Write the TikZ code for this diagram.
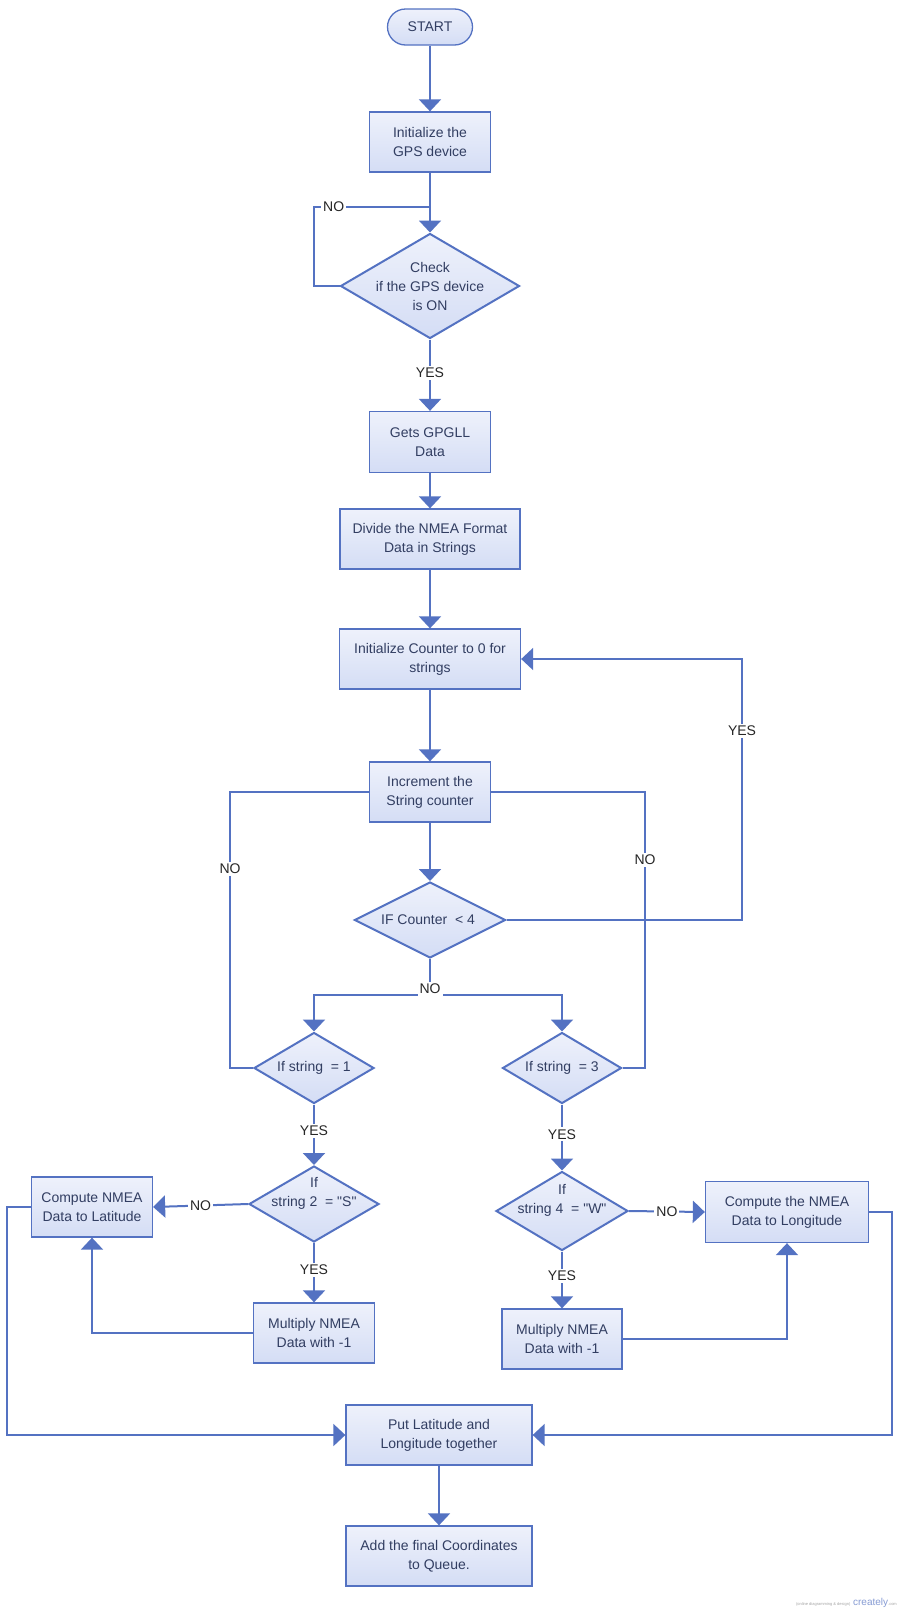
\documentclass[tikz,border=0pt]{standalone}
\usepackage{fontspec}
\newfontfamily\chartfont{Liberation Sans}
\usetikzlibrary{shapes.geometric, arrows.meta}

\definecolor{lineblue}{RGB}{84,114,194}
\definecolor{boxtop}{RGB}{238,241,251}
\definecolor{boxbottom}{RGB}{212,221,245}
\definecolor{textblue}{RGB}{50,62,98}

\tikzset{
  flowtext/.style={text=textblue, align=center, inner sep=0pt, font=\chartfont\fontsize{14}{19}\selectfont},
  process/.style={flowtext, draw=lineblue, line width=1.3pt, top color=boxtop, bottom color=boxbottom,
    minimum width=121pt, minimum height=60pt},
  terminal/.style={process, rounded corners=18pt, minimum width=85pt, minimum height=36pt},
  decision/.style={diamond, draw=lineblue, line width=2pt, inner sep=0pt, top color=boxtop, bottom color=boxbottom},
  answer/.style={fill=white, inner sep=2pt, text=black!85, font=\chartfont\fontsize{14}{16}\selectfont},
  link/.style={draw=lineblue, line width=2pt},
  flow/.style={link, -{Triangle[width=22pt, length=12pt]}},
}

\begin{document}
\begin{tikzpicture}[x=1pt, y=-1pt]
      \useasboundingbox[fill=white] (0,0) rectangle (900,1620);

      % Define coordinates
      \coordinate (chkloop) at (314,207);
      \coordinate (yesloop) at (742,731);
      \coordinate (split) at (430,995);
      \coordinate (leftno) at (230,869);
      \coordinate (rightno) at (645,860);
      \coordinate (latdown) at (7,1300);
      \coordinate (londown) at (892,1300);

      % Draw the main column
      \node[terminal] (start) at (430,27) {START};
      \node[process] (init) at (430,142) {Initialize the\\GPS device};
      \node[decision, minimum width=179pt, minimum height=105pt] (check) at (430,286) {};
      \node[flowtext] (checktext) at (430,286) {Check\\if the GPS device\\is ON};
      \node[process, minimum height=61pt] (gets) at (430,442) {Gets GPGLL\\Data};
      \node[process, minimum width=180pt] (divide) at (430,539) {Divide the NMEA Format\\Data in Strings};
      \node[process, minimum width=181pt] (initcnt) at (430,659) {Initialize Counter to 0 for\\strings};
      \node[process] (incr) at (430,792) {Increment the\\String counter};
      \node[decision, minimum width=151pt, minimum height=76pt] (ifcnt) at (430,920) {};
      \node[flowtext] (ifcnttext) at (428,920) {IF Counter~~{<} 4};

      % Draw the left branch (latitude)
      \node[decision, minimum width=120pt, minimum height=71pt] (str1) at (314,1068) {};
      \node[flowtext] (str1text) at (314,1068) {If string~~= 1};
      \node[decision, minimum width=130pt, minimum height=76pt] (str2) at (314,1204) {};
      \node[flowtext] (str2text) at (314,1193) {If\\string 2~~= "S"};
      \node[process] (latcomp) at (92,1207) {Compute NMEA\\Data to Latitude};
      \node[process] (mul1) at (314,1333) {Multiply NMEA\\Data with -1};

      % Draw the right branch (longitude)
      \node[decision, minimum width=119pt, minimum height=71pt] (str3) at (562,1068) {};
      \node[flowtext] (str3text) at (562,1068) {If string~~= 3};
      \node[decision, minimum width=132pt, minimum height=79pt] (str4) at (562,1211) {};
      \node[flowtext] (str4text) at (562,1200) {If\\string 4~~= "W"};
      \node[process, minimum width=163pt, minimum height=61pt] (loncomp) at (787,1212) {Compute the NMEA\\Data to Longitude};
      \node[process, minimum width=120pt] (mul2) at (562,1339) {Multiply NMEA\\Data with -1};

      % Draw the end of the chart
      \node[process, minimum width=186pt] (put) at (439,1435) {Put Latitude and\\Longitude together};
      \node[process, minimum width=186pt] (add) at (439,1556) {Add the final Coordinates\\to Queue.};

      % Draw connectors of the main column
      \draw[flow] (start) -- (init);
      \draw[flow] (init) -- (check);
      \draw[link] (check.west) -| (chkloop) -- node[answer, pos=0.17] {NO} (chkloop -| check.north);
      \draw[flow] (check) -- node[answer, pos=0.47] {YES} (gets);
      \draw[flow] (gets) -- (divide);
      \draw[flow] (divide) -- (initcnt);
      \draw[flow] (initcnt) -- (incr);
      \draw[flow] (incr) -- (ifcnt);
      \draw[flow] (ifcnt.east) -| (yesloop) node[answer] {YES} |- (initcnt.east);

      % Draw the NO split under the counter test
      \draw[link] (ifcnt.south) -- (split);
      \draw[flow] (split) -| (str1.north);
      \draw[flow] (split) -| (str3.north);
      \node[answer] (splitno) at (430,989) {NO};
      \draw[link] (str1.west) -| (leftno) node[answer] {NO} |- (incr.west);
      \draw[link] (str3.east) -| (rightno) node[answer] {NO} |- (incr.east);

      % Draw connectors of the latitude branch
      \draw[flow] (str1) -- node[answer, pos=0.44] {YES} (str2);
      \draw[flow] (str2.west) -- node[answer, pos=0.5] {NO} (latcomp.east);
      \draw[flow] (str2) -- node[answer, pos=0.45] {YES} (mul1);
      \draw[flow] (mul1.west) -| (latcomp.south);
      \draw[flow] (latcomp.west) -| (latdown) |- (put.west);

      % Draw connectors of the longitude branch
      \draw[flow] (str3) -- node[answer, pos=0.45] {YES} (str4);
      \draw[flow] (str4.east) -- node[answer, pos=0.5] {NO} (loncomp.west);
      \draw[flow] (str4) -- node[answer, pos=0.43] {YES} (mul2);
      \draw[flow] (mul2.east) -| (loncomp.south);
      \draw[flow] (loncomp.east) -| (londown) |- (put.east);

      \draw[flow] (put) -- (add);

      % Watermark
      \node[anchor=east, inner sep=0pt, font=\chartfont] (mark) at (897,1603)
        {{\fontsize{4}{5}\selectfont\color{gray!70}(online diagramming \& design)}
         {\fontsize{10}{10}\selectfont\color{lineblue!70}creately}{\fontsize{4}{5}\selectfont\color{gray!70}.com}};
    \end{tikzpicture}
\end{document}
